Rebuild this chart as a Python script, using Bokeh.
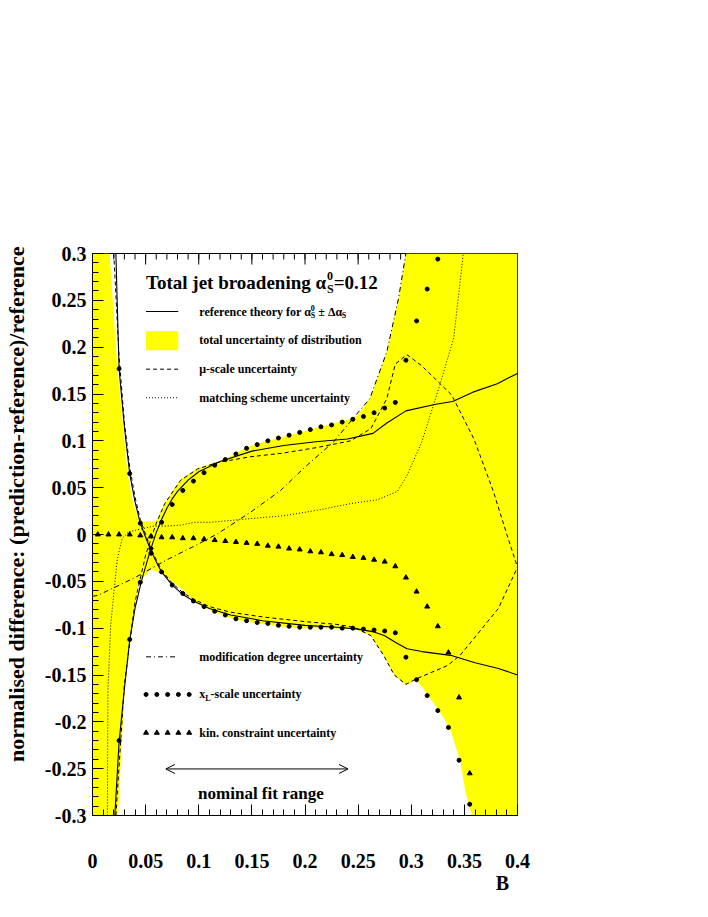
import math
from bokeh.plotting import figure
from bokeh.models import Range1d, LinearAxis, FixedTicker, Label, Arrow, OpenHead
from bokeh.embed import file_html
from bokeh.resources import INLINE

# ---------------- data ----------------
# reference theory for alpha_s + delta (rising) and alpha_s - delta (falling)
ref_up_x = [0.021, 0.025, 0.03, 0.035, 0.04, 0.046, 0.05, 0.055, 0.06, 0.065, 0.07, 0.075, 0.08, 0.09, 0.1,
            0.12, 0.15, 0.18, 0.21, 0.24, 0.264, 0.277, 0.295, 0.323, 0.339, 0.358, 0.381, 0.4]
ref_up_y = [-0.3, -0.222, -0.165, -0.113, -0.079, -0.05, -0.034, -0.015, 0.002, 0.016, 0.028, 0.038, 0.046, 0.058, 0.067,
            0.078, 0.089, 0.095, 0.099, 0.102, 0.108, 0.119, 0.132, 0.139, 0.142, 0.152, 0.161, 0.172]
ref_dn_x = [0.022, 0.025, 0.03, 0.035, 0.04, 0.045, 0.05, 0.055, 0.06, 0.065, 0.075, 0.085, 0.095, 0.11, 0.13,
            0.16, 0.2, 0.23, 0.25, 0.265, 0.275, 0.285, 0.296, 0.31, 0.337, 0.36, 0.382, 0.4]
ref_dn_y = [0.3, 0.177, 0.115, 0.065, 0.035, 0.012, -0.003, -0.017, -0.029, -0.04, -0.054, -0.064, -0.071, -0.079, -0.086,
            -0.092, -0.097, -0.099, -0.101, -0.104, -0.108, -0.115, -0.122, -0.125, -0.129, -0.137, -0.143, -0.15]

# mu-scale uncertainty (dashed)
mu_up_x = [0.022, 0.03, 0.04, 0.05, 0.06, 0.068, 0.083, 0.099, 0.118, 0.149, 0.18, 0.212, 0.243, 0.262, 0.277,
           0.285, 0.296, 0.31, 0.338, 0.359, 0.377, 0.39, 0.4]
mu_up_y = [-0.3, -0.16, -0.072, -0.022, 0.012, 0.033, 0.058, 0.07, 0.077, 0.083, 0.087, 0.093, 0.1, 0.113, 0.145,
           0.182, 0.192, 0.18, 0.149, 0.102, 0.047, 0.0, -0.035]
mu_dn_x = [0.02, 0.025, 0.03, 0.035, 0.04, 0.045, 0.05, 0.055, 0.06, 0.065, 0.075, 0.085, 0.095, 0.11, 0.13, 0.16,
           0.2, 0.23, 0.246, 0.262, 0.274, 0.284, 0.295, 0.305, 0.334, 0.346, 0.382, 0.4]
mu_dn_y = [0.3, 0.19, 0.12, 0.072, 0.04, 0.016, 0.0, -0.015, -0.027, -0.038, -0.052, -0.062, -0.069, -0.077, -0.083, -0.088,
           -0.093, -0.096, -0.099, -0.108, -0.129, -0.15, -0.16, -0.154, -0.14, -0.129, -0.079, -0.035]

# matching scheme uncertainty (dotted)
match_x = [0.014, 0.0145, 0.0171, 0.0202, 0.0234, 0.028, 0.0343, 0.046, 0.058, 0.07, 0.083, 0.096, 0.111, 0.149,
           0.18, 0.212, 0.243, 0.268, 0.287, 0.296, 0.31, 0.327, 0.34, 0.349]
match_y = [-0.3, -0.168, -0.097, -0.061, -0.026, -0.004, 0.003, 0.006, 0.009, 0.009, 0.010, 0.013, 0.013, 0.017,
           0.02, 0.026, 0.033, 0.037, 0.046, 0.063, 0.099, 0.16, 0.21, 0.3]

# modification degree uncertainty (dash-dot)
mod_x = [0.0, 0.005, 0.04, 0.07, 0.1, 0.118, 0.149, 0.177, 0.2, 0.227, 0.246, 0.261, 0.277, 0.288, 0.295]
mod_y = [-0.066, -0.065, -0.046, -0.027, -0.01, 0.001, 0.024, 0.047, 0.072, 0.099, 0.125, 0.145, 0.195, 0.252, 0.3]

# x_L-scale uncertainty (dots)
xl_x = [0.025, 0.035, 0.045, 0.055, 0.065, 0.075, 0.085, 0.095, 0.105, 0.115, 0.125, 0.135, 0.145, 0.155, 0.165,
        0.175, 0.185, 0.195, 0.205, 0.215, 0.225, 0.235, 0.245, 0.255, 0.265, 0.275, 0.285, 0.295, 0.305, 0.315,
        0.325, 0.335, 0.345, 0.355]
xl_up_y = [-0.22, -0.112, -0.051, -0.015, 0.013, 0.032, 0.047, 0.057, 0.066, 0.074, 0.08, 0.086, 0.092, 0.096, 0.1,
           0.103, 0.106, 0.109, 0.112, 0.115, 0.117, 0.12, 0.123, 0.126, 0.13, 0.135, 0.141, 0.186, 0.228, 0.262,
           0.294, 0.33, 0.37, 0.41]
xl_dn_y = [0.177, 0.065, 0.012, -0.02, -0.04, -0.054, -0.063, -0.071, -0.077, -0.082, -0.086, -0.09, -0.092, -0.094,
           -0.095, -0.097, -0.098, -0.099, -0.099, -0.099, -0.099, -0.1, -0.1, -0.101, -0.102, -0.103, -0.105, -0.131,
           -0.155, -0.172, -0.188, -0.206, -0.241, -0.288]

# kinematic constraint uncertainty (triangles)
kin_x = [0.005, 0.015, 0.025, 0.035, 0.045, 0.055, 0.065, 0.075, 0.085, 0.095, 0.105, 0.115, 0.125, 0.135, 0.145,
         0.155, 0.165, 0.175, 0.185, 0.195, 0.205, 0.215, 0.225, 0.235, 0.245, 0.255, 0.265, 0.275, 0.285, 0.295,
         0.305, 0.315, 0.325, 0.335, 0.345, 0.355]
kin_y = [0.0, 0.0, 0.0, 0.0, -0.001, -0.002, -0.003, -0.003, -0.004, -0.004, -0.005, -0.006, -0.007, -0.008, -0.009,
         -0.01, -0.012, -0.013, -0.015, -0.016, -0.018, -0.019, -0.021, -0.022, -0.024, -0.025, -0.027, -0.029, -0.034,
         -0.046, -0.061, -0.077, -0.098, -0.126, -0.174, -0.255]

# total uncertainty band (yellow polygon outline)
band_x = [0.0, 0.024, 0.03, 0.035, 0.04, 0.0426, 0.055, 0.0645, 0.077, 0.086, 0.095, 0.105, 0.115, 0.125, 0.135,
          0.145, 0.155, 0.165, 0.175, 0.185, 0.195, 0.205, 0.215, 0.225, 0.235, 0.246, 0.262, 0.274, 0.284, 0.295,
          0.305, 0.316, 0.326, 0.336, 0.346, 0.351, 0.357, 0.4, 0.4, 0.295, 0.288, 0.277, 0.261, 0.25, 0.245, 0.235,
          0.225, 0.215, 0.205, 0.195, 0.185, 0.175, 0.165, 0.155, 0.145, 0.135, 0.125, 0.118, 0.099, 0.083, 0.068,
          0.061, 0.058, 0.044, 0.038, 0.033, 0.0235, 0.016, 0.0]
band_y = [-0.3, -0.3, -0.17, -0.118, -0.082, -0.053, -0.037, -0.041, -0.052, -0.06, -0.071, -0.078, -0.083, -0.087,
          -0.091, -0.093, -0.095, -0.096, -0.098, -0.099, -0.1, -0.1, -0.1, -0.1, -0.101, -0.101, -0.108, -0.129,
          -0.15, -0.161, -0.155, -0.172, -0.188, -0.206, -0.241, -0.275, -0.3, -0.3, 0.3, 0.3, 0.252, 0.195, 0.145,
          0.128, 0.124, 0.121, 0.118, 0.115, 0.112, 0.109, 0.106, 0.103, 0.1, 0.097, 0.093, 0.087, 0.081, 0.078,
          0.071, 0.059, 0.034, 0.016, 0.014, 0.014, 0.035, 0.065, 0.177, 0.3, 0.3]

x_ticks = [0.0, 0.05, 0.1, 0.15, 0.2, 0.25, 0.3, 0.35, 0.4]
x_tick_labels = ["0", "0.05", "0.1", "0.15", "0.2", "0.25", "0.3", "0.35", "0.4"]
y_ticks = [-0.3, -0.25, -0.2, -0.15, -0.1, -0.05, 0.0, 0.05, 0.1, 0.15, 0.2, 0.25, 0.3]
y_tick_labels = ["-0.3", "-0.25", "-0.2", "-0.15", "-0.1", "-0.05", "0", "0.05", "0.1", "0.15", "0.2", "0.25", "0.3"]
fit_range = [0.069, 0.2405]
y_title = "normalised difference: (prediction-reference)/reference"
x_title = "B"

# ---------------- layout ----------------
W, H = 692, 901
FL, FT, FW, FH = 90, 253, 427, 562
X0, X1, Y0, Y1 = 0.0, 0.4, -0.3, 0.3
DX = (X1 - X0) / FW   # data per px
DY = (Y1 - Y0) / FH
FONT = "Liberation Serif"
MAJ, MIN = 11, 6
NBSP = "\u00a0"

p = figure(width=W, height=H, x_range=Range1d(X0, X1), y_range=Range1d(Y0, Y1),
           output_backend="svg", toolbar_location=None,
           min_border_left=FL, min_border_right=W - FL - FW,
           min_border_top=FT, min_border_bottom=H - FT - FH,
           x_axis_location=None, y_axis_location=None)
p.grid.visible = False
p.outline_line_color = "black"
p.outline_line_width = 1
p.background_fill_color = "white"
p.border_fill_color = "white"

minor_x = [round(i * 0.01, 2) for i in range(0, 41)]
minor_y = [round(-0.3 + i * 0.01, 2) for i in range(0, 61)]


def style_axis(ax):
    ax.axis_line_color = "black"
    ax.major_tick_in = MAJ
    ax.major_tick_out = 0
    ax.minor_tick_in = MIN
    ax.minor_tick_out = 0
    ax.major_tick_line_color = "black"
    ax.minor_tick_line_color = "black"
    ax.major_label_text_font = FONT
    ax.major_label_text_font_style = "bold"
    ax.major_label_text_font_size = "20px"
    ax.major_label_text_color = "black"
    ax.axis_label_text_font = FONT
    ax.axis_label_text_font_style = "bold"
    ax.axis_label_text_color = "black"


xb = LinearAxis(ticker=FixedTicker(ticks=x_ticks, minor_ticks=minor_x),
                major_label_overrides={t: l for t, l in zip(x_ticks, x_tick_labels)})
style_axis(xb)
xb.major_label_standoff = 38
# "B" at the right end (trailing blanks keep room for the subscript T)
xb.axis_label = x_title + NBSP * 6
xb.axis_label_text_font_size = "20px"
xb.axis_label_standoff = 1
if "axis_label_align" in xb.properties():
    xb.axis_label_align = "end"
p.add_layout(xb, "below")

yl = LinearAxis(ticker=FixedTicker(ticks=y_ticks, minor_ticks=minor_y),
                major_label_overrides={t: l for t, l in zip(y_ticks, y_tick_labels)})
style_axis(yl)
yl.major_label_standoff = 6
# leading blanks push the centred title towards the top of the axis, as in the reference
yl.axis_label = NBSP * 11 + y_title
yl.axis_label_text_font_size = "22px"
yl.axis_label_standoff = 13
p.add_layout(yl, "left")

# tick marks on the upper frame edge (mirror of the x axis, no labels)
p.segment(x0=x_ticks, y0=[Y1] * len(x_ticks), x1=x_ticks, y1=[Y1 - MAJ * DY] * len(x_ticks),
          line_color="black", line_width=1)
p.segment(x0=minor_x, y0=[Y1] * len(minor_x), x1=minor_x, y1=[Y1 - MIN * DY] * len(minor_x),
          line_color="black", line_width=1)

# ---------------- data marks ----------------
p.patch(band_x, band_y, fill_color="#ffff00", line_color=None)

p.line(ref_up_x, ref_up_y, line_color="black", line_width=1.1)
p.line(ref_dn_x, ref_dn_y, line_color="black", line_width=1.1)
p.line(mu_up_x, mu_up_y, line_color="black", line_width=1, line_dash="4 3")
p.line(mu_dn_x, mu_dn_y, line_color="black", line_width=1, line_dash="4 3")
p.line(match_x, match_y, line_color="black", line_width=1, line_dash="1 2")
p.line(mod_x, mod_y, line_color="black", line_width=1, line_dash="5 3 1 3")
p.scatter(xl_x, xl_up_y, marker="circle", size=4, color="black")
p.scatter(xl_x, xl_dn_y, marker="circle", size=4, color="black")
p.scatter(kin_x, kin_y, marker="triangle", size=5, color="black")

# ---------------- texts ----------------
# Times/Liberation Serif bold advance widths (per 1000 em)
ADV = {" ": 250, "-": 333, ".": 250, "=": 570, "±": 570, "α": 540, "Δ": 612, "μ": 556, "(": 333, ")": 333,
       "/": 278, ":": 333, "0": 500, "1": 500, "2": 500, "T": 667, "S": 556, "L": 667, "B": 667,
       "a": 500, "b": 556, "c": 444, "d": 556, "e": 444, "f": 333, "g": 500, "h": 556, "i": 278, "j": 333,
       "k": 556, "l": 278, "m": 833, "n": 556, "o": 500, "p": 556, "r": 444, "s": 389, "t": 333, "u": 556,
       "x": 500, "y": 500, NBSP: 250}


def tw(s, size):
    return sum(ADV.get(c, 500) for c in s) * size / 1000.0


def txt(x, y, s, size, align="left", baseline="middle", angle=0.0, y_off=0):
    p.add_layout(Label(x=x, y=y, text=s, text_font=FONT, text_font_style="bold",
                       text_font_size=f"{size}px", text_align=align, text_baseline=baseline,
                       text_color="black", angle=angle, y_offset=y_off))


def rich(x, y, parts):
    """parts: (text, size, dy_px, advance) placed left to right; blank parts only advance."""
    cx = x
    for s, size, dy, adv in parts:
        if s.strip():
            txt(cx, y + dy * DY, s, size)
        if adv:
            cx += tw(s, size) * DX
    return cx


# legend geometry
KX0, KX1, TX = 0.0504, 0.0807, 0.1005
R_TITLE, R_REF, R_BAND, R_MU, R_MATCH = 0.269, 0.238, 0.2075, 0.1765, 0.146
R_MOD, R_XL, R_KIN = -0.1306, -0.1708, -0.2117

# title: Total jet broadening alpha_S^0 = 0.12
rich(KX0, R_TITLE, [("Total jet broadening α", 19, 0, True), ("0", 12, 7, False), ("S", 12, -6, True),
                    ("=0.12", 19, 0, True)])

# legend keys
p.line([KX0, KX1], [R_REF, R_REF], line_color="black", line_width=1.1)
p.quad(left=KX0, right=KX1, bottom=R_BAND - 10 * DY, top=R_BAND + 9 * DY, fill_color="#ffff00", line_color=None)
p.line([KX0, KX1], [R_MU, R_MU], line_color="black", line_width=1, line_dash="4 3")
p.line([KX0, KX1], [R_MATCH, R_MATCH], line_color="black", line_width=1, line_dash="1 2")
p.line([KX0, KX1 - 0.002], [R_MOD, R_MOD], line_color="black", line_width=1, line_dash="5 3 1 3")
key_pts = [KX0 + i * (0.091 - KX0) / 4 for i in range(5)]
p.scatter(key_pts, [R_XL] * 5, marker="circle", size=4, color="black")
p.scatter(key_pts, [R_KIN] * 5, marker="triangle", size=5, color="black")

# legend texts
rich(TX, R_REF, [("reference theory for α", 12, 0, True), ("0", 8, 4, False), ("S", 8, -4, True),
                 (" ", 12, 0, True), ("±", 12, 0, True), (" ", 12, 0, True), ("Δα", 12, 0, True),
                 ("S", 8, -4, True)])
txt(TX, R_BAND, "total uncertainty of distribution", 12)
txt(TX, R_MU, "μ-scale uncertainty", 12)
txt(TX, R_MATCH, "matching scheme uncertainty", 12)
txt(TX, R_MOD, "modification degree uncertainty", 12)
rich(TX, R_XL, [("x", 12, 0, True), ("L", 8, -4, True), ("-scale uncertainty", 12, 0, True)])
txt(TX, R_KIN, "kin. constraint uncertainty", 12)

# nominal fit range
y_arrow = -0.2503
p.add_layout(Arrow(start=OpenHead(size=9, line_width=1), end=OpenHead(size=9, line_width=1),
                   x_start=fit_range[0], y_start=y_arrow, x_end=fit_range[1], y_end=y_arrow,
                   line_color="black", line_width=1))
txt(sum(fit_range) / 2 + 4 * DX, -0.277, "nominal fit range", 17, align="center")

# subscript T of the x-axis title, just right of the "B" (anchored on the frame edge, offset downwards)
b_center = X1 - tw(NBSP * 6, 20) / 2 * DX
txt(b_center + tw("B", 20) / 2 * DX, Y0, "T", 13, y_off=-78)

open("out.html", "w").write(file_html(p, INLINE))
